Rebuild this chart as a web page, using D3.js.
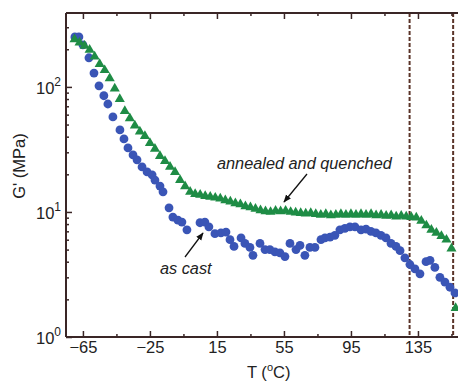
<!DOCTYPE html>
<html><head><meta charset="utf-8">
<script src="https://cdn.jsdelivr.net/npm/d3@7"></script>
<style>body{margin:0;background:#fff}svg{display:block}</style>
</head><body>
<script>
// as cast (blue circles)
const castT = [-69.8,-67.4,-65,-61.4,-58.4,-55.4,-52.5,-50.1,-47.1,-42.9,-40.5,-38.1,-35.1,-32.7,-29.7,-26.7,-23.7,-22,-19,-17.2,-13.6,-11.3,-8.3,-5.9,-2.9,4.9,7.8,10.2,13.8,17.4,20.4,22.8,25.2,29.4,31.7,34.7,36.5,40.7,43.7,46.6,49.6,52.6,55.6,58.6,62.2,64.6,67.5,70.5,73.5,77.1,79.5,82.5,85.4,88.4,91.4,94.4,97.4,101,104,106.9,109.9,112.9,115.9,118.9,121.9,124.3,127.2,130.2,133.2,136.2,139.8,142.2,145.1,148.1,151.1,154.1,157.1];
const castG = [251,251,217,171,129,102,85,73,57.5,45.3,38.4,32.5,28.6,26.1,22.9,20.9,19.8,18,16.1,14.5,10.8,9.1,8.6,8.3,7.2,8.2,8.3,7.6,6.7,6.8,6.9,6.0,5.3,6.2,5.6,5.2,4.5,5.6,5.0,5.0,4.8,4.7,4.4,5.6,5.0,5.4,4.5,5.2,5.2,6.0,6.2,6.3,6.5,7.2,7.4,7.6,7.6,7.2,7.3,7.0,6.8,6.5,6.2,5.6,5.3,4.9,4.3,3.8,3.5,3.2,4.0,4.1,3.6,3.0,2.75,2.5,2.25];
// annealed and quenched (green triangles)
const annT = [-70,-67,-64,-61,-58,-55,-52,-49,-46,-43,-40,-37,-34,-31,-28,-25,-22,-19,-16,-13,-10,-7,-4,-1,2,5,8,11,14,17,20,23,26,29,32,35,38,41,44,47,50,53,56,59,62,65,68,71,74,77,80,83,86,89,92,95,98,101,104,107,110,113,116,119,122,125,128,131,134,137,140,143,146,149,152,155,157.5];
const annG = [240,226,213,198,175,152,136,117,97,80,64,56,49,44,40.5,35.5,32,28,25.5,23,20.8,18,16,14.5,13.9,13.7,13.4,13.2,13.0,12.8,12.4,12.1,11.7,11.5,11.1,10.9,10.6,10.3,10.1,10.0,10.2,10.1,10.2,10.0,9.9,9.8,9.7,9.8,9.6,9.5,9.6,9.4,9.5,9.6,9.5,9.6,9.5,9.6,9.5,9.6,9.4,9.5,9.3,9.4,9.2,9.3,9.2,9.1,9.0,8.5,7.8,7.2,6.8,6.4,6.0,5.1,1.7];
const xMajor = [-65,-25,15,55,95,135];
const xMinor = [-45,-5,35,75,115,155];
const yMajor = [1,10,100];
const dashT = [130,156];

const W=458,H=381;
const L=66,R=458,T=13,B=337;
const svg=d3.select("body").append("svg").attr("width",W).attr("height",H);
const x=d3.scaleLinear().domain([-75.1,158.9]).range([L,R]);
const y=d3.scaleLog().domain([1,390]).range([B,T]);
const axisCol="#3a2626";
const font="Liberation Sans, Arial, sans-serif";

// dashed lines
svg.selectAll(".dash").data(dashT).enter().append("line")
  .attr("x1",d=>x(d)).attr("x2",d=>x(d)).attr("y1",T).attr("y2",B)
  .attr("stroke","#5a3328").attr("stroke-width",2).attr("stroke-dasharray","4,2");

// data
const blue="#3a55b6", green="#1e8c45";
svg.selectAll(".c").data(castT.map((t,i)=>[t,castG[i]])).enter().append("circle")
  .attr("cx",d=>x(d[0])).attr("cy",d=>y(d[1])).attr("r",4.4).attr("fill",blue);
const tri=d3.symbol().type(d3.symbolTriangle).size(44);
svg.selectAll(".t").data(annT.map((t,i)=>[t,annG[i]])).enter().append("path")
  .attr("d",tri).attr("transform",d=>`translate(${x(d[0])},${y(d[1])})`).attr("fill",green);

// axes
const g=svg.append("g");
g.append("line").attr("x1",L).attr("x2",R).attr("y1",B).attr("y2",B).attr("stroke",axisCol).attr("stroke-width",2);
g.append("line").attr("x1",L).attr("x2",R).attr("y1",T).attr("y2",T).attr("stroke",axisCol).attr("stroke-width",2);
g.append("line").attr("x1",L).attr("x2",L).attr("y1",T).attr("y2",B).attr("stroke",axisCol).attr("stroke-width",2);

const xb=svg.append("g").attr("transform",`translate(0,${B})`)
  .call(d3.axisBottom(x).tickValues(xMajor).tickSize(-6).tickPadding(6).tickFormat(d3.format("d")));
const xbm=svg.append("g").attr("transform",`translate(0,${B})`)
  .call(d3.axisBottom(x).tickValues(xMinor).tickSize(-3).tickFormat(""));
const xt=svg.append("g").attr("transform",`translate(0,${T})`)
  .call(d3.axisTop(x).tickValues(xMajor).tickSize(-6).tickFormat(""));
const xtm=svg.append("g").attr("transform",`translate(0,${T})`)
  .call(d3.axisTop(x).tickValues(xMinor).tickSize(-3).tickFormat(""));
const yMinorVals=[];
[1,10,100].forEach(dec=>{for(let k=2;k<=9;k++){const v=dec*k;if(v<390)yMinorVals.push(v);}});
const yl=svg.append("g").attr("transform",`translate(${L},0)`)
  .call(d3.axisLeft(y).tickValues(yMajor).tickSize(-6).tickFormat(""));
const ylm=svg.append("g").attr("transform",`translate(${L},0)`)
  .call(d3.axisLeft(y).tickValues(yMinorVals).tickSize(-3).tickFormat(""));
[xb,xbm,xt,xtm,yl,ylm].forEach(a=>{a.select(".domain").remove();a.selectAll("line").attr("stroke",axisCol).attr("stroke-width",1.5);});
xb.selectAll("text").attr("font-family",font).attr("font-size",16.5).attr("fill","#222").attr("y",4).attr("dy","0.71em");

// y tick labels 10^n
yMajor.forEach((v,i)=>{
  const t=svg.append("text").attr("x",L-5).attr("y",y(v)+7).attr("text-anchor","end")
    .attr("font-family",font).attr("font-size",16.5).attr("fill","#222");
  t.append("tspan").text("10");
  t.append("tspan").attr("dy",-8).attr("font-size",12).text(String(Math.round(Math.log10(v))));
});

// axis titles
svg.append("text").attr("transform",`translate(25,166) rotate(-90)`).attr("text-anchor","middle")
  .attr("font-family",font).attr("font-size",16.5).attr("fill","#222").text("G' (MPa)");
const xtitle=svg.append("text").attr("x",247).attr("y",378).attr("font-family",font).attr("font-size",16.5).attr("fill","#222");
xtitle.append("tspan").text("T  (");
xtitle.append("tspan").attr("dy",-7).attr("font-size",11).text("o");
xtitle.append("tspan").attr("dy",7).text("C)");

// annotations
svg.append("text").attr("x",217).attr("y",169).attr("font-family",font).attr("font-style","italic")
  .attr("font-size",16.3).attr("fill","#222").text("annealed and quenched");
svg.append("text").attr("x",160).attr("y",274).attr("font-family",font).attr("font-style","italic")
  .attr("font-size",16.3).attr("fill","#222").text("as cast");
const defs=svg.append("defs");
defs.append("marker").attr("id","ah").attr("viewBox","0 0 10 10").attr("refX",9).attr("refY",5)
  .attr("markerWidth",6).attr("markerHeight",6).attr("orient","auto")
  .append("path").attr("d","M0,1 L10,5 L0,9 Z").attr("fill","#111");
svg.append("line").attr("x1",307).attr("y1",174).attr("x2",284).attr("y2",202)
  .attr("stroke","#111").attr("stroke-width",1.3).attr("marker-end","url(#ah)");
svg.append("line").attr("x1",185).attr("y1",257).attr("x2",203).attr("y2",233)
  .attr("stroke","#111").attr("stroke-width",1.3).attr("marker-end","url(#ah)");
</script>
</body></html>
